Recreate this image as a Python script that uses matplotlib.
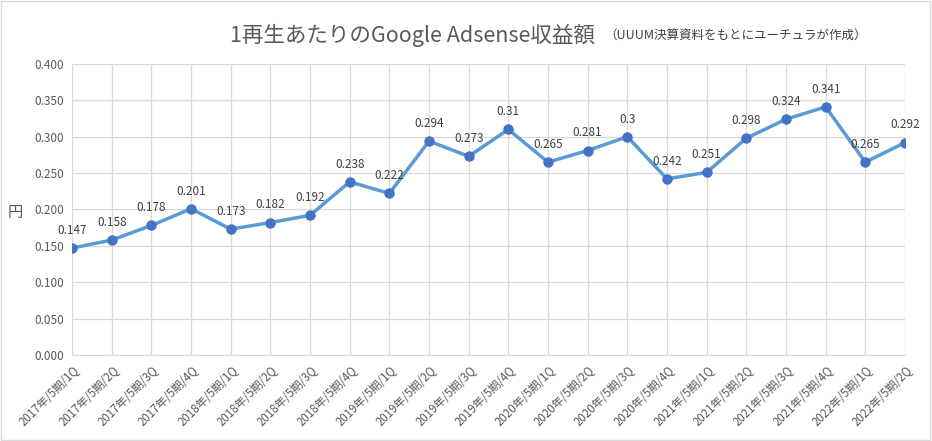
import matplotlib
matplotlib.use('Agg')
import matplotlib.pyplot as plt
from matplotlib.patches import Rectangle

plt.rcParams['font.family'] = ['Noto Sans CJK JP', 'DejaVu Sans']

# --- data ---
periods = ['2017年/5期/1Q', '2017年/5期/2Q', '2017年/5期/3Q', '2017年/5期/4Q',
           '2018年/5期/1Q', '2018年/5期/2Q', '2018年/5期/3Q', '2018年/5期/4Q',
           '2019年/5期/1Q', '2019年/5期/2Q', '2019年/5期/3Q', '2019年/5期/4Q',
           '2020年/5期/1Q', '2020年/5期/2Q', '2020年/5期/3Q', '2020年/5期/4Q',
           '2021年/5期/1Q', '2021年/5期/2Q', '2021年/5期/3Q', '2021年/5期/4Q',
           '2022年/5期/1Q', '2022年/5期/2Q']
revenue = [0.147, 0.158, 0.178, 0.201, 0.173, 0.182, 0.192, 0.238, 0.222, 0.294,
           0.273, 0.31, 0.265, 0.281, 0.3, 0.242, 0.251, 0.298, 0.324, 0.341,
           0.265, 0.292]
point_labels = ['0.147', '0.158', '0.178', '0.201', '0.173', '0.182', '0.192', '0.238',
                '0.222', '0.294', '0.273', '0.31', '0.265', '0.281', '0.3', '0.242',
                '0.251', '0.298', '0.324', '0.341', '0.265', '0.292']
yticks = [0.0, 0.05, 0.1, 0.15, 0.2, 0.25, 0.3, 0.35, 0.4]

gray = '#595959'
fig = plt.figure(figsize=(9.32, 4.41), dpi=100)
ax = fig.add_axes([0.0773, 0.195, 0.8937, 0.66])

x = list(range(len(periods)))
ax.plot(x, revenue, color='#5B9BD5', lw=2.5, marker='o', ms=6.5,
        markerfacecolor='#4472C4', markeredgecolor='#4472C4', zorder=3)
for xi, v, lab in zip(x, revenue, point_labels):
    ax.annotate(lab, (xi, v), xytext=(0, 8), textcoords='offset points',
                ha='center', va='bottom', fontsize=8.5, color='#404040')

ax.set_xlim(0, len(periods) - 1)
ax.set_ylim(0, 0.4)
ax.set_yticks(yticks)
ax.set_yticklabels([f'{t:.3f}' for t in yticks], fontsize=8.5, color=gray)
ax.set_xticks(x)
ax.set_xticklabels(periods, rotation=45, ha='right', rotation_mode='anchor',
                   fontsize=8.3, color=gray)
ax.tick_params(length=0, pad=6)
ax.grid(True, color='#D9D9D9', lw=0.9)
ax.set_axisbelow(True)
for s in ax.spines.values():
    s.set_visible(False)
ax.spines['bottom'].set_visible(True)
ax.spines['bottom'].set_color('#D9D9D9')

fig.text(0.016, 0.518, '円', fontsize=11, color=gray, ha='center', va='center')
fig.text(0.247, 0.92, '1再生あたりのGoogle Adsense収益額', fontsize=15.5,
         color=gray, ha='left', va='center')
fig.text(0.648, 0.918, '（UUUM決算資料をもとにユーチュラが作成）', fontsize=9,
         color='#404040', ha='left', va='center')

fig.patches.append(Rectangle((0.001, 0.002), 0.997, 0.995, transform=fig.transFigure,
                             fill=False, edgecolor='#D9D9D9', lw=1))

fig.savefig('out.png', dpi=100)
